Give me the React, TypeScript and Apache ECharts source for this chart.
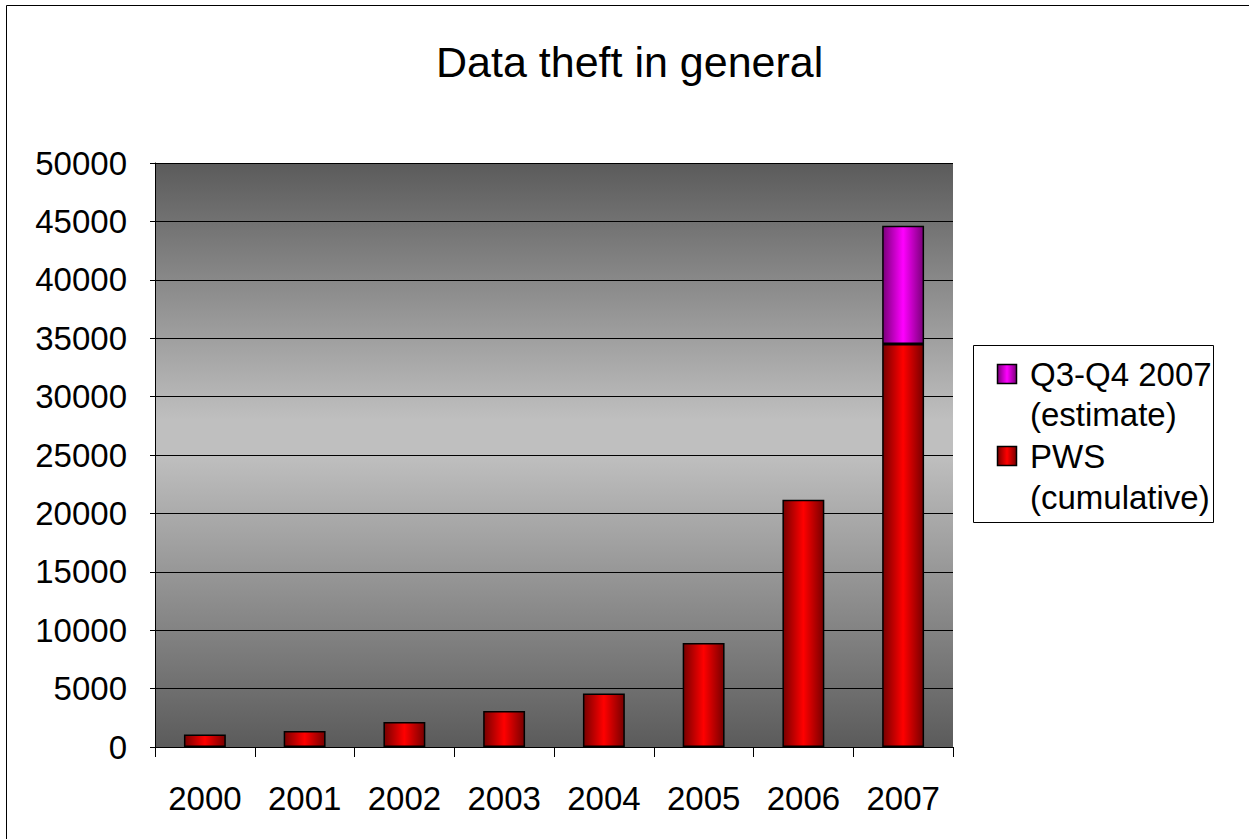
import React, { useEffect, useRef } from "react";
import * as echarts from "echarts";

const categories = ["2000", "2001", "2002", "2003", "2004", "2005", "2006", "2007"];
const pwsCumulative = [1080, 1370, 2140, 3080, 4590, 8900, 21170, 34500];
const q3q4Estimate = [null, null, null, null, null, null, null, 10130];
const seriesNames = ["PWS\n(cumulative)", "Q3-Q4 2007\n(estimate)"];
const titleText = "Data theft in general";

const FONT = "'Liberation Sans', Arial, sans-serif";

const hGrad = (edge: string, mid: string) =>
  new echarts.graphic.LinearGradient(0, 0, 1, 0, [
    { offset: 0, color: edge },
    { offset: 0.5, color: mid },
    { offset: 1, color: edge },
  ]);

export default function App() {
  const ref = useRef<HTMLDivElement>(null);
  useEffect(() => {
    if (!ref.current) return;
    const chart = echarts.init(ref.current, null, { renderer: "svg" });
    const redGrad = hGrad("#780000", "#ff0000");
    const magGrad = hGrad("#7a007a", "#ff00ff");
    const option: any = {
      animation: false,
      backgroundColor: "#ffffff",
      textStyle: { fontFamily: FONT },
      title: {
        text: titleText,
        left: 436,
        top: 40,
        padding: 0,
        textStyle: { fontFamily: FONT, fontSize: 43, fontWeight: "normal", color: "#000" },
      },
      grid: {
        left: 155,
        top: 163,
        width: 798,
        height: 584,
        show: true,
        borderWidth: 0,
        backgroundColor: new echarts.graphic.LinearGradient(0, 0, 0, 1, [
          { offset: 0, color: "#5b5b5b" },
          { offset: 0.44, color: "#bfbfbf" },
          { offset: 0.5, color: "#bfbfbf" },
          { offset: 1, color: "#5b5b5b" },
        ]),
      },
      xAxis: {
        type: "category",
        data: categories,
        boundaryGap: true,
        axisLine: { show: true, lineStyle: { color: "#000", width: 1 } },
        axisTick: { show: true, alignWithLabel: false, interval: 0, length: 10, lineStyle: { color: "#000" } },
        axisLabel: { fontFamily: FONT, fontSize: 33, color: "#000", margin: 35, interval: 0 },
        splitLine: { show: false },
      },
      yAxis: {
        type: "value",
        min: 0,
        max: 50000,
        interval: 5000,
        axisLine: { show: true, lineStyle: { color: "#000", width: 1 } },
        axisTick: { show: true, length: 5, lineStyle: { color: "#000" } },
        axisLabel: {
          fontFamily: FONT,
          fontSize: 33,
          color: "#000",
          margin: 28,
          formatter: (v: number) => String(v),
        },
        splitLine: { show: true, lineStyle: { color: "#000", width: 1 } },
      },
      series: [
        {
          name: seriesNames[0],
          type: "bar",
          stack: "total",
          data: pwsCumulative,
          barWidth: "42%",
          itemStyle: { color: redGrad, borderColor: "#000", borderWidth: 1.5 },
        },
        {
          name: seriesNames[1],
          type: "bar",
          stack: "total",
          data: q3q4Estimate,
          barWidth: "42%",
          itemStyle: { color: magGrad, borderColor: "#000", borderWidth: 1.5 },
        },
      ],
      graphic: [
        {
          type: "rect",
          silent: true,
          shape: { x: 6.5, y: 5.5, width: 1300, height: 900 },
          style: { fill: "none", stroke: "#000", lineWidth: 1 },
          z: -10,
        },
        {
          type: "group",
          children: [
            {
              type: "rect",
              shape: { x: 973.5, y: 345.5, width: 240, height: 177 },
              style: { fill: "#fff", stroke: "#000", lineWidth: 1 },
            },
            {
              type: "rect",
              shape: { x: 997.5, y: 364.5, width: 19, height: 19 },
              style: { fill: magGrad, stroke: "#000", lineWidth: 1.5 },
            },
            {
              type: "text",
              x: 1030,
              y: 374,
              style: { text: seriesNames[1].split("\n")[0], font: `33px ${FONT}`, fill: "#000", verticalAlign: "middle" },
            },
            {
              type: "text",
              x: 1030,
              y: 414,
              style: { text: seriesNames[1].split("\n")[1], font: `33px ${FONT}`, fill: "#000", verticalAlign: "middle" },
            },
            {
              type: "rect",
              shape: { x: 997.5, y: 446.5, width: 19, height: 19 },
              style: { fill: redGrad, stroke: "#000", lineWidth: 1.5 },
            },
            {
              type: "text",
              x: 1030,
              y: 456,
              style: { text: seriesNames[0].split("\n")[0], font: `33px ${FONT}`, fill: "#000", verticalAlign: "middle" },
            },
            {
              type: "text",
              x: 1030,
              y: 497,
              style: { text: seriesNames[0].split("\n")[1], font: `33px ${FONT}`, fill: "#000", verticalAlign: "middle" },
            },
          ],
        },
      ],
    };
    chart.setOption(option);
    return () => chart.dispose();
  }, []);
  return (
    <div
      ref={ref}
      style={{ position: "absolute", left: 0, top: 0, width: 1249, height: 839 }}
    />
  );
}
